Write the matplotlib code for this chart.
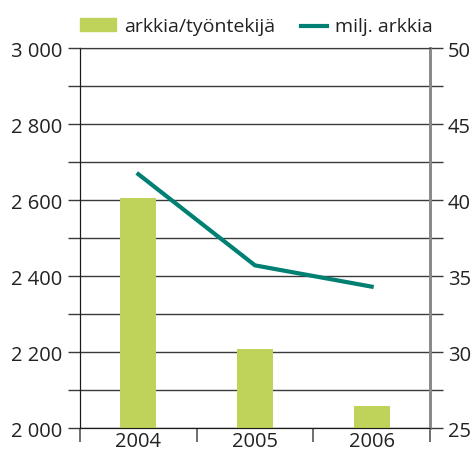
import matplotlib.pyplot as plt
from matplotlib.patches import Rectangle
from matplotlib.lines import Line2D
from matplotlib.ticker import FuncFormatter

plt.rcParams['font.family'] = ['Open Sans', 'DejaVu Sans']
plt.rcParams['font.size'] = 14.5

years = ["2004", "2005", "2006"]
sheets_per_worker = [2605, 2208, 2058]
million_sheets = [41.7, 35.7, 34.3]
legend_labels = ["arkkia/työntekijä", "milj. arkkia"]

bar_color = "#bfd25a"
line_color = "#007f73"
grid_color = "#3a3a3a"

W, H = 472, 456
fig = plt.figure(figsize=(W / 100, H / 100), dpi=100)
ax = fig.add_axes([0.1695, 0.0592, 0.7415, 0.8333])
ax2 = ax.twinx()

x = list(range(len(years)))
ax.bar(x, sheets_per_worker, width=0.31, color=bar_color, zorder=3)
ax2.plot(x, million_sheets, color=line_color, lw=3, zorder=4)

ax.set_xlim(-0.5, 2.5)
ax.set_ylim(2000, 3000)
ax2.set_ylim(25, 50)

# left axis: labels every 200, lines every 100
ax.set_yticks(range(2000, 3001, 200))
ax.set_yticks(range(2100, 3000, 200), minor=True)
ax.yaxis.set_major_formatter(FuncFormatter(lambda v, p: f"{int(v):,}".replace(",", " ")))
ax.tick_params(axis='y', which='both', length=9, width=1, color=grid_color, pad=4)
ax.grid(axis='y', which='both', color=grid_color, lw=1, zorder=0)

ax2.set_yticks(range(25, 51, 5))
ax2.set_yticks([27.5, 32.5, 37.5, 42.5, 47.5], minor=True)
ax2.tick_params(axis='y', which='both', length=9, width=1, color=grid_color, pad=4)

# x axis: labels at centres, ticks at category borders
ax.set_xticks(x)
ax.set_xticklabels(years)
ax.set_xticks([-0.5, 0.5, 1.5, 2.5], minor=True)
ax.tick_params(axis='x', which='major', length=0, pad=2)
ax.tick_params(axis='x', which='minor', length=10, width=1.2, color="#555555")

for a in (ax, ax2):
    a.spines['top'].set_color(grid_color)
    a.spines['left'].set_color("#1a1a1a")
    a.spines['bottom'].set_color("#1a1a1a")
    a.spines['right'].set_color("#8a8a8a")
    a.spines['right'].set_linewidth(2)
    a.tick_params(labelcolor="#222222")

# legend drawn by hand (handles of different widths)
def fx(px):
    return px / W

def fy(py):
    return 1 - py / H

fig.add_artist(Rectangle((fx(80), fy(32)), fx(36), 13 / H,
                         transform=fig.transFigure, color=bar_color))
fig.text(fx(124), fy(32), legend_labels[0], fontsize=14, color="#222222",
         va='baseline', ha='left')
fig.add_artist(Line2D([fx(301), fx(327)], [fy(26.5), fy(26.5)],
                      transform=fig.transFigure, color=line_color, lw=3))
fig.text(fx(335), fy(32), legend_labels[1], fontsize=14, color="#222222",
         va='baseline', ha='left')

plt.savefig("out.png", dpi=100)
plt.close()
